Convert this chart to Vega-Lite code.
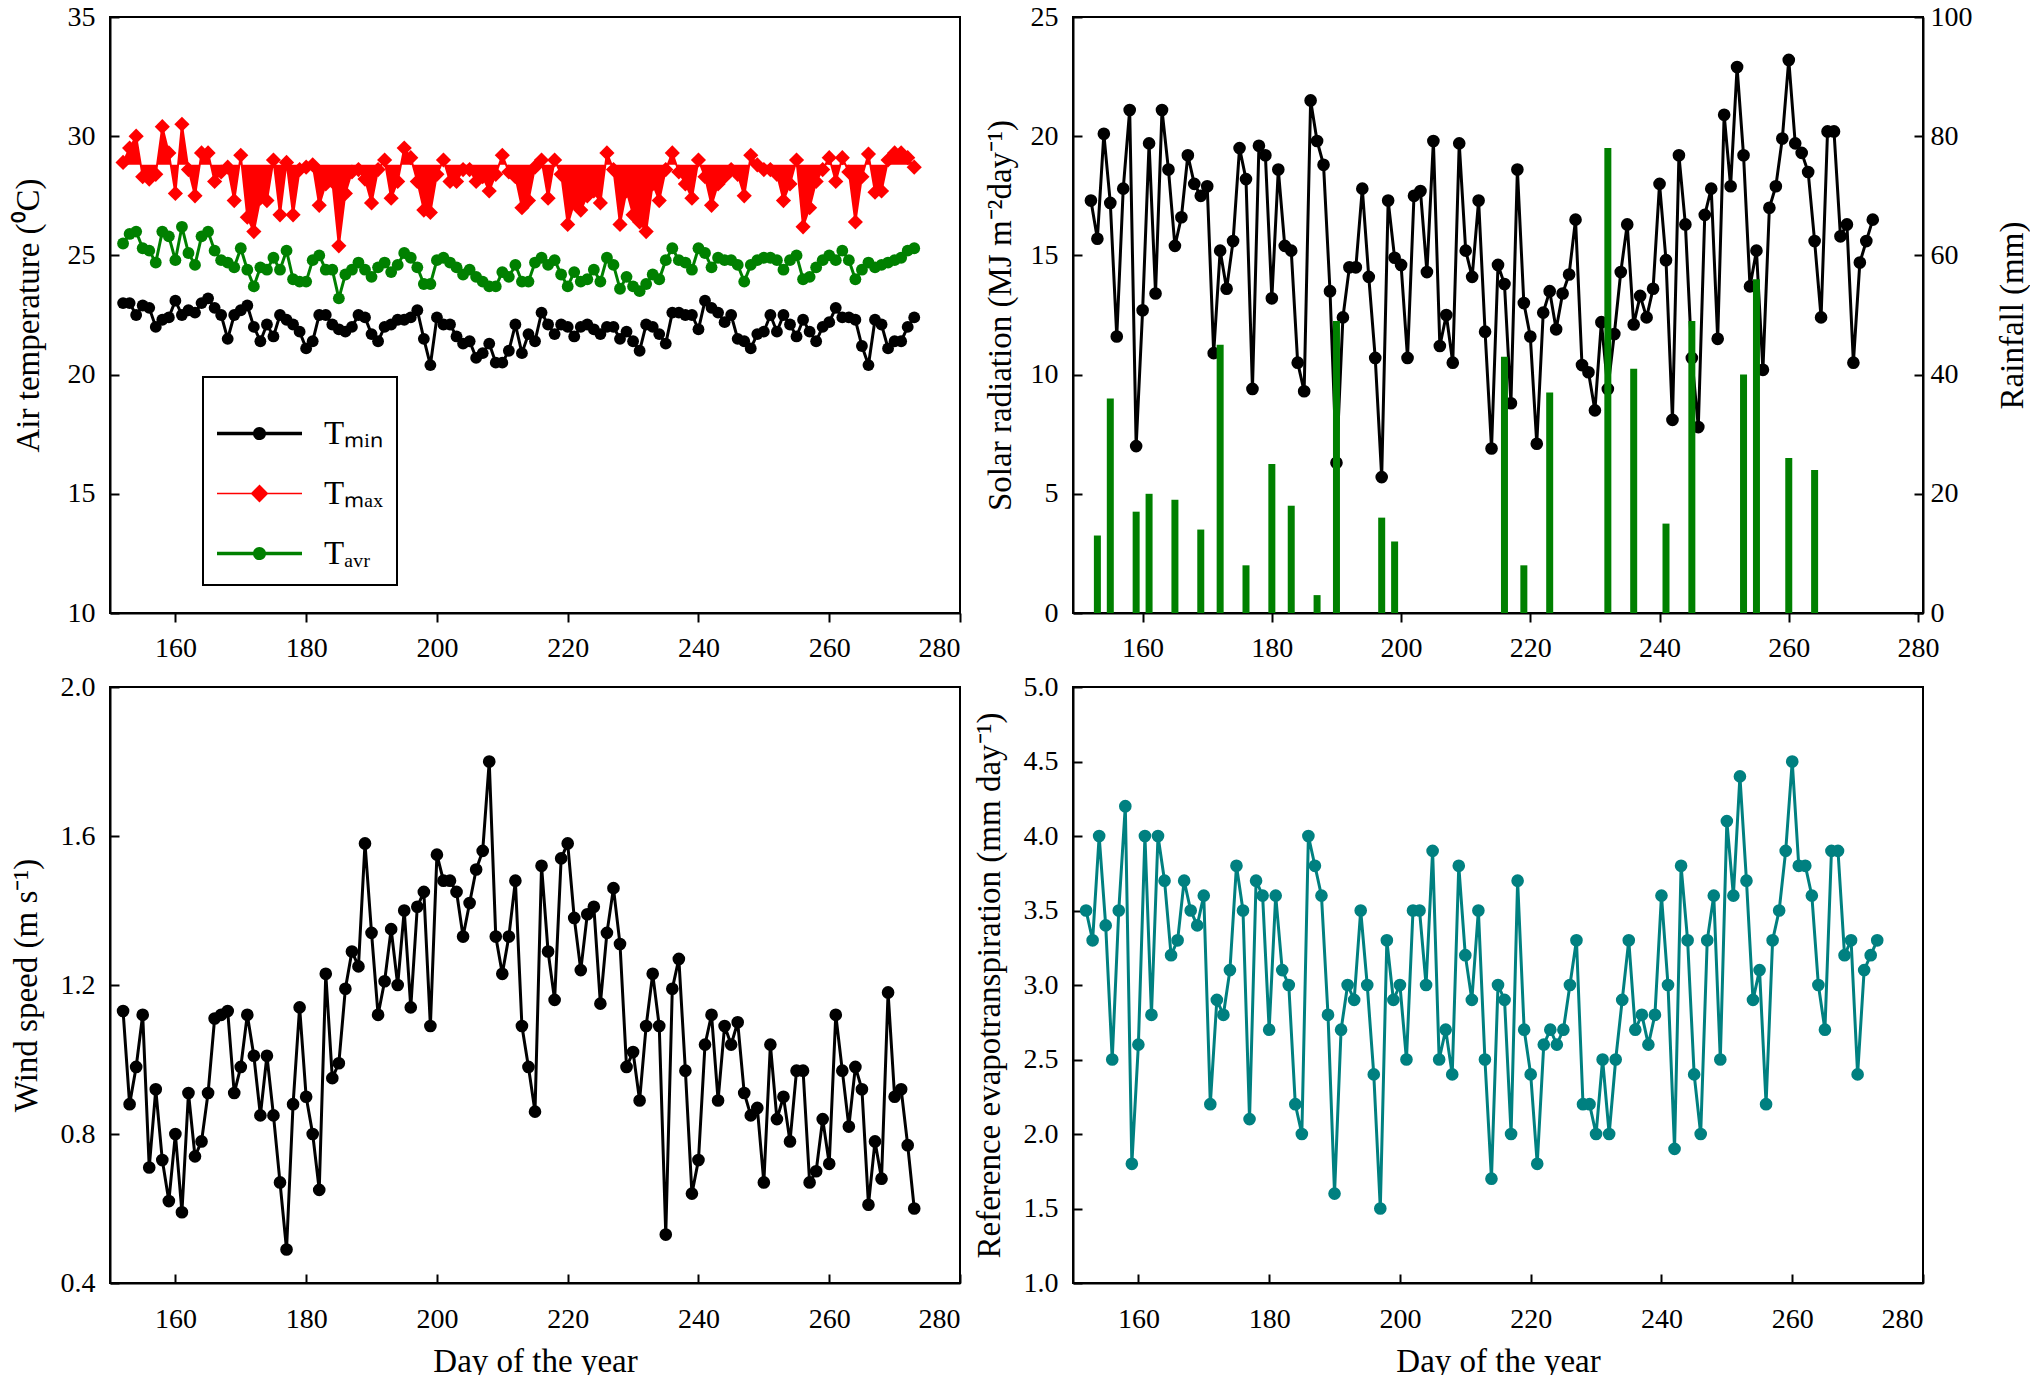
{
  "$schema": "https://vega.github.io/schema/vega-lite/v6.json",
  "background": "white",
  "padding": {"left": 9, "top": 2, "right": 0, "bottom": 0},
  "config": {
    "font": "Liberation Serif",
    "view": {"stroke": "black", "strokeWidth": 2},
    "axis": {"grid": false, "domainColor": "black", "domainWidth": 2, "tickColor": "black", "tickWidth": 2, "tickSize": -9, "labelFont": "Liberation Serif", "labelFontSize": 28, "labelColor": "black", "labelPadding": 24, "titleFont": "Liberation Serif", "titleFontSize": 33, "titleFontWeight": "normal", "titleColor": "black", "titlePadding": 14},
    "legend": {"labelFont": "Liberation Serif", "strokeWidth": 2}
  },
  "datasets": {
    "w": [
      {"d":152,"tn":23.0,"tx":28.9,"ta":25.5,"sr":17.3,"ws":1.13,"et":3.5},
      {"d":153,"tn":23.0,"tx":29.5,"ta":25.9,"sr":15.7,"ws":0.88,"et":3.3},
      {"d":154,"tn":22.5,"tx":30.0,"ta":26.0,"sr":20.1,"ws":0.98,"et":4.0},
      {"d":155,"tn":22.9,"tx":28.3,"ta":25.3,"sr":17.2,"ws":1.12,"et":3.4},
      {"d":156,"tn":22.8,"tx":28.2,"ta":25.2,"sr":11.6,"ws":0.71,"et":2.5},
      {"d":157,"tn":22.0,"tx":28.4,"ta":24.7,"sr":17.8,"ws":0.92,"et":3.5},
      {"d":158,"tn":22.3,"tx":30.4,"ta":26.0,"sr":21.1,"ws":0.73,"et":4.2},
      {"d":159,"tn":22.4,"tx":29.3,"ta":25.8,"sr":7.0,"ws":0.62,"et":1.8},
      {"d":160,"tn":23.1,"tx":27.6,"ta":24.8,"sr":12.7,"ws":0.80,"et":2.6},
      {"d":161,"tn":22.5,"tx":30.5,"ta":26.2,"sr":19.7,"ws":0.59,"et":4.0},
      {"d":162,"tn":22.7,"tx":28.6,"ta":25.1,"sr":13.4,"ws":0.91,"et":2.8},
      {"d":163,"tn":22.6,"tx":27.5,"ta":24.6,"sr":21.1,"ws":0.74,"et":4.0},
      {"d":164,"tn":23.0,"tx":29.3,"ta":25.8,"sr":18.6,"ws":0.78,"et":3.7},
      {"d":165,"tn":23.2,"tx":29.3,"ta":26.0,"sr":15.4,"ws":0.91,"et":3.2},
      {"d":166,"tn":22.8,"tx":28.1,"ta":25.2,"sr":16.6,"ws":1.11,"et":3.3},
      {"d":167,"tn":22.5,"tx":28.5,"ta":24.8,"sr":19.2,"ws":1.12,"et":3.7},
      {"d":168,"tn":21.5,"tx":28.7,"ta":24.7,"sr":18.0,"ws":1.13,"et":3.5},
      {"d":169,"tn":22.5,"tx":27.3,"ta":24.5,"sr":17.5,"ws":0.91,"et":3.4},
      {"d":170,"tn":22.7,"tx":29.2,"ta":25.3,"sr":17.9,"ws":0.98,"et":3.6},
      {"d":171,"tn":22.9,"tx":26.6,"ta":24.4,"sr":10.9,"ws":1.12,"et":2.2},
      {"d":172,"tn":22.0,"tx":26.0,"ta":23.7,"sr":15.2,"ws":1.01,"et":2.9},
      {"d":173,"tn":21.4,"tx":27.4,"ta":24.5,"sr":13.6,"ws":0.85,"et":2.8},
      {"d":174,"tn":22.1,"tx":27.3,"ta":24.4,"sr":15.6,"ws":1.01,"et":3.1},
      {"d":175,"tn":21.6,"tx":29.0,"ta":24.9,"sr":19.5,"ws":0.85,"et":3.8},
      {"d":176,"tn":22.5,"tx":26.7,"ta":24.4,"sr":18.2,"ws":0.67,"et":3.5},
      {"d":177,"tn":22.3,"tx":28.9,"ta":25.2,"sr":9.4,"ws":0.49,"et":2.1},
      {"d":178,"tn":22.1,"tx":26.7,"ta":24.0,"sr":19.6,"ws":0.88,"et":3.7},
      {"d":179,"tn":21.8,"tx":28.6,"ta":23.9,"sr":19.2,"ws":1.14,"et":3.6},
      {"d":180,"tn":21.1,"tx":28.7,"ta":23.9,"sr":13.2,"ws":0.90,"et":2.7},
      {"d":181,"tn":21.4,"tx":28.8,"ta":24.8,"sr":18.6,"ws":0.80,"et":3.6},
      {"d":182,"tn":22.5,"tx":27.1,"ta":25.0,"sr":15.4,"ws":0.65,"et":3.1},
      {"d":183,"tn":22.5,"tx":28.0,"ta":24.4,"sr":15.2,"ws":1.23,"et":3.0},
      {"d":184,"tn":22.1,"tx":28.1,"ta":24.4,"sr":10.5,"ws":0.95,"et":2.2},
      {"d":185,"tn":21.9,"tx":25.4,"ta":23.2,"sr":9.3,"ws":0.99,"et":2.0},
      {"d":186,"tn":21.8,"tx":27.6,"ta":24.2,"sr":21.5,"ws":1.19,"et":4.0},
      {"d":187,"tn":22.0,"tx":28.5,"ta":24.4,"sr":19.8,"ws":1.29,"et":3.8},
      {"d":188,"tn":22.5,"tx":28.6,"ta":24.7,"sr":18.8,"ws":1.25,"et":3.6},
      {"d":189,"tn":22.4,"tx":28.2,"ta":24.4,"sr":13.5,"ws":1.58,"et":2.8},
      {"d":190,"tn":21.7,"tx":27.2,"ta":24.1,"sr":6.3,"ws":1.34,"et":1.6},
      {"d":191,"tn":21.4,"tx":28.6,"ta":24.5,"sr":12.4,"ws":1.12,"et":2.7},
      {"d":192,"tn":22.0,"tx":29.0,"ta":24.7,"sr":14.5,"ws":1.21,"et":3.0},
      {"d":193,"tn":22.1,"tx":27.4,"ta":24.3,"sr":14.5,"ws":1.35,"et":2.9},
      {"d":194,"tn":22.3,"tx":28.1,"ta":24.6,"sr":17.8,"ws":1.20,"et":3.5},
      {"d":195,"tn":22.3,"tx":29.5,"ta":25.1,"sr":14.1,"ws":1.40,"et":3.0},
      {"d":196,"tn":22.4,"tx":29.1,"ta":24.9,"sr":10.7,"ws":1.14,"et":2.4},
      {"d":197,"tn":22.7,"tx":28.1,"ta":24.5,"sr":5.7,"ws":1.41,"et":1.5},
      {"d":198,"tn":21.5,"tx":26.9,"ta":23.8,"sr":17.3,"ws":1.45,"et":3.3},
      {"d":199,"tn":20.4,"tx":26.8,"ta":23.8,"sr":14.9,"ws":1.09,"et":2.9},
      {"d":200,"tn":22.4,"tx":28.4,"ta":24.8,"sr":14.6,"ws":1.55,"et":3.0},
      {"d":201,"tn":22.1,"tx":29.0,"ta":24.9,"sr":10.7,"ws":1.48,"et":2.5},
      {"d":202,"tn":22.1,"tx":28.1,"ta":24.7,"sr":17.5,"ws":1.48,"et":3.5},
      {"d":203,"tn":21.6,"tx":28.1,"ta":24.5,"sr":17.7,"ws":1.45,"et":3.5},
      {"d":204,"tn":21.3,"tx":28.6,"ta":24.2,"sr":14.3,"ws":1.33,"et":3.0},
      {"d":205,"tn":21.4,"tx":28.6,"ta":24.4,"sr":19.8,"ws":1.42,"et":3.9},
      {"d":206,"tn":20.7,"tx":28.1,"ta":24.1,"sr":11.2,"ws":1.51,"et":2.5},
      {"d":207,"tn":20.9,"tx":28.3,"ta":23.9,"sr":12.5,"ws":1.56,"et":2.7},
      {"d":208,"tn":21.3,"tx":27.7,"ta":23.7,"sr":10.5,"ws":1.80,"et":2.4},
      {"d":209,"tn":20.5,"tx":28.4,"ta":23.7,"sr":19.7,"ws":1.33,"et":3.8},
      {"d":210,"tn":20.5,"tx":29.2,"ta":24.3,"sr":15.2,"ws":1.23,"et":3.2},
      {"d":211,"tn":21.0,"tx":28.5,"ta":24.1,"sr":14.1,"ws":1.33,"et":2.9},
      {"d":212,"tn":22.1,"tx":28.3,"ta":24.6,"sr":17.3,"ws":1.48,"et":3.5},
      {"d":213,"tn":20.9,"tx":27.0,"ta":23.9,"sr":11.8,"ws":1.09,"et":2.5},
      {"d":214,"tn":21.7,"tx":27.3,"ta":23.9,"sr":6.9,"ws":0.98,"et":1.7},
      {"d":215,"tn":21.4,"tx":28.7,"ta":24.7,"sr":14.6,"ws":0.86,"et":3.0},
      {"d":216,"tn":22.6,"tx":29.0,"ta":24.9,"sr":13.8,"ws":1.52,"et":2.9},
      {"d":217,"tn":22.1,"tx":27.4,"ta":24.6,"sr":8.8,"ws":1.29,"et":2.0},
      {"d":218,"tn":21.7,"tx":29.0,"ta":24.8,"sr":18.6,"ws":1.16,"et":3.7},
      {"d":219,"tn":22.1,"tx":28.4,"ta":24.2,"sr":13.0,"ws":1.54,"et":2.7},
      {"d":220,"tn":22.0,"tx":26.3,"ta":23.7,"sr":11.6,"ws":1.58,"et":2.4},
      {"d":221,"tn":21.6,"tx":27.2,"ta":24.3,"sr":7.1,"ws":1.38,"et":1.8},
      {"d":222,"tn":22.0,"tx":26.9,"ta":23.9,"sr":12.6,"ws":1.24,"et":2.6},
      {"d":223,"tn":22.1,"tx":27.5,"ta":24.0,"sr":13.5,"ws":1.39,"et":2.7},
      {"d":224,"tn":21.9,"tx":27.7,"ta":24.4,"sr":11.9,"ws":1.41,"et":2.6},
      {"d":225,"tn":21.7,"tx":27.2,"ta":23.9,"sr":13.4,"ws":1.15,"et":2.7},
      {"d":226,"tn":22.0,"tx":29.3,"ta":24.9,"sr":14.2,"ws":1.34,"et":3.0},
      {"d":227,"tn":22.0,"tx":28.6,"ta":24.6,"sr":16.5,"ws":1.46,"et":3.3},
      {"d":228,"tn":21.5,"tx":26.3,"ta":23.6,"sr":10.4,"ws":1.31,"et":2.2},
      {"d":229,"tn":21.8,"tx":27.7,"ta":24.1,"sr":10.1,"ws":0.98,"et":2.2},
      {"d":230,"tn":21.4,"tx":26.7,"ta":23.7,"sr":8.5,"ws":1.02,"et":2.0},
      {"d":231,"tn":21.0,"tx":26.4,"ta":23.5,"sr":12.2,"ws":0.89,"et":2.5},
      {"d":232,"tn":22.1,"tx":26.0,"ta":23.8,"sr":9.4,"ws":1.09,"et":2.0},
      {"d":233,"tn":22.0,"tx":28.0,"ta":24.2,"sr":11.7,"ws":1.23,"et":2.5},
      {"d":234,"tn":21.7,"tx":27.3,"ta":24.0,"sr":14.3,"ws":1.09,"et":2.9},
      {"d":235,"tn":21.3,"tx":28.6,"ta":24.8,"sr":16.3,"ws":0.53,"et":3.3},
      {"d":236,"tn":22.6,"tx":29.3,"ta":25.3,"sr":12.1,"ws":1.19,"et":2.7},
      {"d":237,"tn":22.6,"tx":28.5,"ta":24.8,"sr":13.3,"ws":1.27,"et":2.8},
      {"d":238,"tn":22.5,"tx":28.0,"ta":24.7,"sr":12.4,"ws":0.97,"et":2.6},
      {"d":239,"tn":22.5,"tx":27.4,"ta":24.4,"sr":13.6,"ws":0.64,"et":2.8},
      {"d":240,"tn":21.9,"tx":29.0,"ta":25.3,"sr":18.0,"ws":0.73,"et":3.6},
      {"d":241,"tn":23.1,"tx":28.3,"ta":25.1,"sr":14.8,"ws":1.04,"et":3.0},
      {"d":242,"tn":22.8,"tx":27.1,"ta":24.5,"sr":8.1,"ws":1.12,"et":1.9},
      {"d":243,"tn":22.6,"tx":28.0,"ta":24.9,"sr":19.2,"ws":0.89,"et":3.8},
      {"d":244,"tn":22.2,"tx":28.3,"ta":24.8,"sr":16.3,"ws":1.09,"et":3.3},
      {"d":245,"tn":22.5,"tx":28.6,"ta":24.8,"sr":10.7,"ws":1.04,"et":2.4},
      {"d":246,"tn":21.5,"tx":28.4,"ta":24.6,"sr":7.8,"ws":1.10,"et":2.0},
      {"d":247,"tn":21.4,"tx":27.5,"ta":23.9,"sr":16.7,"ws":0.91,"et":3.3},
      {"d":248,"tn":21.1,"tx":29.2,"ta":24.6,"sr":17.8,"ws":0.85,"et":3.6},
      {"d":249,"tn":21.7,"tx":28.8,"ta":24.8,"sr":11.5,"ws":0.87,"et":2.5},
      {"d":250,"tn":21.8,"tx":28.6,"ta":24.9,"sr":20.9,"ws":0.67,"et":4.1},
      {"d":251,"tn":22.5,"tx":28.6,"ta":24.9,"sr":17.9,"ws":1.04,"et":3.6},
      {"d":252,"tn":21.8,"tx":28.4,"ta":24.8,"sr":22.9,"ws":0.84,"et":4.4},
      {"d":253,"tn":22.5,"tx":27.3,"ta":24.4,"sr":19.2,"ws":0.90,"et":3.7},
      {"d":254,"tn":22.1,"tx":28.0,"ta":24.8,"sr":13.7,"ws":0.78,"et":2.9},
      {"d":255,"tn":21.6,"tx":29.0,"ta":25.0,"sr":15.2,"ws":0.97,"et":3.1},
      {"d":256,"tn":22.3,"tx":26.2,"ta":24.0,"sr":10.2,"ws":0.97,"et":2.2},
      {"d":257,"tn":21.8,"tx":27.0,"ta":24.1,"sr":17.0,"ws":0.67,"et":3.3},
      {"d":258,"tn":21.4,"tx":28.1,"ta":24.5,"sr":17.9,"ws":0.70,"et":3.5},
      {"d":259,"tn":22.0,"tx":28.6,"ta":24.8,"sr":19.9,"ws":0.84,"et":3.9},
      {"d":260,"tn":22.2,"tx":29.1,"ta":25.0,"sr":23.2,"ws":0.72,"et":4.5},
      {"d":261,"tn":22.8,"tx":28.1,"ta":24.8,"sr":19.7,"ws":1.12,"et":3.8},
      {"d":262,"tn":22.4,"tx":29.1,"ta":25.2,"sr":19.3,"ws":0.97,"et":3.8},
      {"d":263,"tn":22.4,"tx":28.5,"ta":24.8,"sr":18.5,"ws":0.82,"et":3.6},
      {"d":264,"tn":22.3,"tx":26.4,"ta":24.0,"sr":15.6,"ws":0.98,"et":3.0},
      {"d":265,"tn":21.2,"tx":28.3,"ta":24.4,"sr":12.4,"ws":0.92,"et":2.7},
      {"d":266,"tn":20.4,"tx":29.25,"ta":24.7,"sr":20.2,"ws":0.61,"et":3.9},
      {"d":267,"tn":22.3,"tx":27.65,"ta":24.5,"sr":20.2,"ws":0.78,"et":3.9},
      {"d":268,"tn":22.1,"tx":27.7,"ta":24.6,"sr":15.8,"ws":0.68,"et":3.2},
      {"d":269,"tn":21.1,"tx":29.0,"ta":24.7,"sr":16.3,"ws":1.18,"et":3.3},
      {"d":270,"tn":21.4,"tx":29.3,"ta":24.8,"sr":10.5,"ws":0.90,"et":2.4},
      {"d":271,"tn":21.4,"tx":29.3,"ta":24.9,"sr":14.7,"ws":0.92,"et":3.1},
      {"d":272,"tn":22.0,"tx":29.1,"ta":25.2,"sr":15.6,"ws":0.77,"et":3.2},
      {"d":273,"tn":22.4,"tx":28.7,"ta":25.3,"sr":16.5,"ws":0.60,"et":3.3}
    ],
    "rain": [
      {"d":153,"r":13},{"d":155,"r":36},{"d":159,"r":17},{"d":161,"r":20},{"d":165,"r":19},
      {"d":169,"r":14},{"d":172,"r":45},{"d":176,"r":8},{"d":180,"r":25},{"d":183,"r":18},
      {"d":187,"r":3},{"d":190,"r":49},{"d":197,"r":16},{"d":199,"r":12},{"d":216,"r":43},
      {"d":219,"r":8},{"d":223,"r":37},{"d":232,"r":78},{"d":236,"r":41},{"d":241,"r":15},
      {"d":245,"r":49},{"d":253,"r":40},{"d":255,"r":56},{"d":260,"r":26},{"d":264,"r":24}
    ]
  },
  "columns": 2,
  "bounds": "flush",
  "spacing": {"row": 74, "column": 113},
  "concat": [
    {
      "width": 850, "height": 596,
      "data": {"name": "w"},
      "transform": [{"fold": ["tn", "tx", "ta"], "as": ["s", "v"]}],
      "encoding": {
        "x": {"field": "d", "type": "quantitative", "scale": {"domain": [150, 280], "nice": false}, "axis": {"values": [160, 180, 200, 220, 240, 260, 280], "title": null, "tickSize": 9, "labelPadding": 12}},
        "y": {"field": "v", "type": "quantitative", "scale": {"domain": [10, 35], "nice": false}, "axis": {"values": [10, 15, 20, 25, 30, 35], "title": "Air temperature (\u2070C)", "titlePadding": 22}},
        "color": {"field": "s", "type": "nominal", "scale": {"domain": ["tx", "tn", "ta"], "range": ["#ff0000", "#000000", "#008000"]}, "legend": null}
      },
      "layer": [
        {"transform": [{"filter": "datum.s == 'tx'"}], "mark": {"type": "area", "opacity": 1}, "encoding": {"y2": {"datum": 28.8}}},
        {"transform": [{"filter": "datum.s != 'tx'"}], "mark": {"type": "line", "strokeWidth": 3}},
        {"transform": [{"filter": "datum.s == 'tx'"}], "mark": {"type": "line", "strokeWidth": 2}},
        {"transform": [{"filter": "datum.s != 'tx'"}], "mark": {"type": "point", "shape": "circle", "filled": true, "size": 140, "opacity": 1}},
        {"transform": [{"filter": "datum.s == 'tx'"}], "mark": {"type": "point", "shape": "diamond", "filled": true, "size": 230, "opacity": 1}},
        {"transform": [{"filter": "datum.d < 0"}], "mark": {"type": "point", "filled": true, "opacity": 1},
          "encoding": {
            "fill": {"field": "s", "type": "nominal", "scale": {"domain": ["tn", "tx", "ta"], "range": ["#000000", "#ff0000", "#008000"]},
              "legend": {"title": null, "orient": "none", "legendX": 93, "legendY": 360, "strokeColor": "black", "fillColor": "white", "padding": 14, "symbolSize": 7225, "symbolStrokeWidth": 0, "labelFontSize": 33, "labelOffset": 22, "rowPadding": -5, "labelColor": "black",
                "labelExpr": "datum.value == 'tn' ? 'T\u2098\u1d62\u2099\u00a0\u00a0\u00a0\u00a0' : datum.value == 'tx' ? 'T\u2098\u2090\u2093\u00a0\u00a0\u00a0\u00a0' : 'T\u2090\u1d65\u1d63\u00a0\u00a0\u00a0\u00a0'"}},
            "shape": {"field": "s", "type": "nominal", "scale": {"domain": ["tn", "tx", "ta"], "range": ["M-1,-0.04H1V0.04H-1Z M0.155,0A0.155,0.155,0,1,1,-0.155,0A0.155,0.155,0,1,1,0.155,0Z", "M-1,-0.018H1V0.018H-1Z M0,-0.21L0.21,0L0,0.21L-0.21,0Z", "M-1,-0.04H1V0.04H-1Z M0.155,0A0.155,0.155,0,1,1,-0.155,0A0.155,0.155,0,1,1,0.155,0Z"]},
              "legend": {"title": null, "orient": "none", "legendX": 93, "legendY": 360, "strokeColor": "black", "fillColor": "white", "padding": 14, "symbolSize": 7225, "symbolStrokeWidth": 0, "labelFontSize": 33, "labelOffset": 22, "rowPadding": -5, "labelColor": "black",
                "labelExpr": "datum.value == 'tn' ? 'T\u2098\u1d62\u2099\u00a0\u00a0\u00a0\u00a0' : datum.value == 'tx' ? 'T\u2098\u2090\u2093\u00a0\u00a0\u00a0\u00a0' : 'T\u2090\u1d65\u1d63\u00a0\u00a0\u00a0\u00a0'"}}
          }}
      ]
    },
    {
      "width": 850, "height": 596,
      "layer": [
        {
          "data": {"name": "w"},
          "encoding": {
            "x": {"field": "d", "type": "quantitative", "scale": {"domain": [150, 280], "nice": false}, "axis": {"values": [160, 180, 200, 220, 240, 260, 280], "title": null, "tickSize": 9, "labelPadding": 12}},
            "y": {"field": "sr", "type": "quantitative", "scale": {"domain": [0, 25], "nice": false}, "axis": {"values": [0, 5, 10, 15, 20, 25], "title": "Solar radiation (MJ m\u207b\u00b2day\u207b\u00b9)", "titlePadding": 13}}
          },
          "layer": [
            {"mark": {"type": "line", "color": "black", "strokeWidth": 3}},
            {"mark": {"type": "point", "shape": "circle", "filled": true, "color": "black", "size": 160, "opacity": 1}}
          ]
        },
        {
          "data": {"name": "rain"},
          "mark": {"type": "bar", "color": "#008000", "size": 7},
          "encoding": {
            "x": {"field": "d", "type": "quantitative"},
            "y": {"field": "r", "type": "quantitative", "scale": {"domain": [0, 100], "nice": false}, "axis": {"orient": "right", "values": [0, 20, 40, 60, 80, 100], "title": "Rainfall (mm)", "titleAngle": -90, "titleBaseline": "top", "titlePadding": 24, "labelPadding": 16}}
          }
        }
      ],
      "resolve": {"scale": {"y": "independent"}}
    },
    {
      "width": 850, "height": 596,
      "data": {"name": "w"},
      "encoding": {
        "x": {"field": "d", "type": "quantitative", "scale": {"domain": [150, 280], "nice": false}, "axis": {"values": [160, 180, 200, 220, 240, 260, 280], "title": "Day of the year", "labelPadding": 31, "titlePadding": 12}},
        "y": {"field": "ws", "type": "quantitative", "scale": {"domain": [0.4, 2.0], "nice": false}, "axis": {"values": [0.4, 0.8, 1.2, 1.6, 2.0], "format": ".1f", "title": "Wind speed (m s\u207b\u00b9)", "titlePadding": 17}}
      },
      "layer": [
        {"mark": {"type": "line", "color": "black", "strokeWidth": 3}},
        {"mark": {"type": "point", "shape": "circle", "filled": true, "color": "black", "size": 160, "opacity": 1}}
      ]
    },
    {
      "width": 850, "height": 596,
      "data": {"name": "w"},
      "encoding": {
        "x": {"field": "d", "type": "quantitative", "scale": {"domain": [150, 280], "nice": false}, "axis": {"values": [160, 180, 200, 220, 240, 260, 280], "title": "Day of the year", "labelPadding": 31, "titlePadding": 12}},
        "y": {"field": "et", "type": "quantitative", "scale": {"domain": [1, 5], "nice": false}, "axis": {"values": [1, 1.5, 2, 2.5, 3, 3.5, 4, 4.5, 5], "format": ".1f", "title": "Reference evapotranspiration (mm day\u207b\u00b9)", "titlePadding": 17}}
      },
      "layer": [
        {"mark": {"type": "line", "color": "#008080", "strokeWidth": 3}},
        {"mark": {"type": "point", "shape": "circle", "filled": true, "color": "#008080", "size": 160, "opacity": 1}}
      ]
    }
  ]
}
